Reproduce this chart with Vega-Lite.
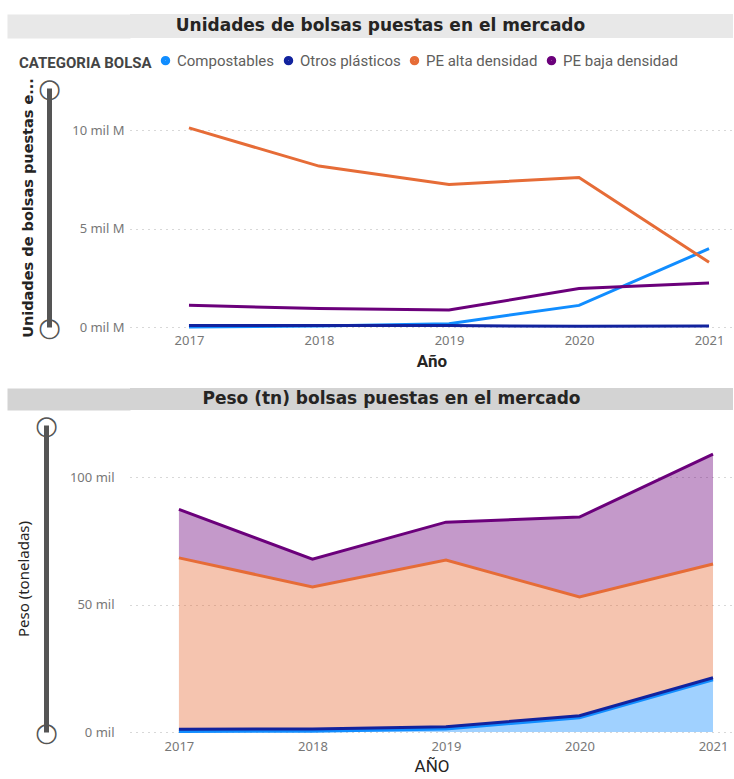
{
  "$schema": "https://vega.github.io/schema/vega-lite/v6.json",
  "padding": {"left": 16, "top": 14, "right": 0, "bottom": 0},
  "background": "white",
  "config": {
    "view": {"stroke": null},
    "axis": {"labelFont": "Noto Sans", "titleFont": "Roboto"},
    "legend": {"labelFont": "Roboto", "titleFont": "Roboto"}
  },
  "datasets": {
    "bolsas": [
      {"anio": 2017, "categoria": "Compostables", "unidades": 0.0, "peso": 0.2},
      {"anio": 2018, "categoria": "Compostables", "unidades": 0.05, "peso": 0.3},
      {"anio": 2019, "categoria": "Compostables", "unidades": 0.17, "peso": 1.2},
      {"anio": 2020, "categoria": "Compostables", "unidades": 1.1, "peso": 5.6},
      {"anio": 2021, "categoria": "Compostables", "unidades": 3.98, "peso": 20.5},
      {"anio": 2017, "categoria": "Otros plásticos", "unidades": 0.08, "peso": 0.9},
      {"anio": 2018, "categoria": "Otros plásticos", "unidades": 0.08, "peso": 0.9},
      {"anio": 2019, "categoria": "Otros plásticos", "unidades": 0.07, "peso": 0.9},
      {"anio": 2020, "categoria": "Otros plásticos", "unidades": 0.04, "peso": 0.8},
      {"anio": 2021, "categoria": "Otros plásticos", "unidades": 0.05, "peso": 0.8},
      {"anio": 2017, "categoria": "PE alta densidad", "unidades": 10.12, "peso": 67.2},
      {"anio": 2018, "categoria": "PE alta densidad", "unidades": 8.18, "peso": 55.7},
      {"anio": 2019, "categoria": "PE alta densidad", "unidades": 7.25, "peso": 65.3},
      {"anio": 2020, "categoria": "PE alta densidad", "unidades": 7.6, "peso": 46.6},
      {"anio": 2021, "categoria": "PE alta densidad", "unidades": 3.29, "peso": 44.6},
      {"anio": 2017, "categoria": "PE baja densidad", "unidades": 1.1, "peso": 19.0},
      {"anio": 2018, "categoria": "PE baja densidad", "unidades": 0.94, "peso": 10.9},
      {"anio": 2019, "categoria": "PE baja densidad", "unidades": 0.86, "peso": 14.9},
      {"anio": 2020, "categoria": "PE baja densidad", "unidades": 1.96, "peso": 31.3},
      {"anio": 2021, "categoria": "PE baja densidad", "unidades": 2.24, "peso": 43.1}
    ]
  },
  "vconcat": [
    {
      "spacing": 15,
      "resolve": {"scale": {"color": "independent"}, "legend": {"color": "independent"}},
      "vconcat": [
        {
          "width": 603,
          "height": 24,
          "view": {"fill": "#e8e8e8", "stroke": null},
          "data": {"values": [{"titulo": "Unidades de bolsas puestas en el mercado"}]},
          "mark": {"type": "text", "font": "DejaVu Sans", "fontWeight": "bold", "fontSize": 17, "color": "#252423", "dx": -51},
          "encoding": {
            "text": {"field": "titulo", "type": "nominal"},
            "y": {"field": "titulo", "type": "nominal", "axis": {"domain": true, "domainWidth": 123, "domainColor": "#e8e8e8", "offset": 61.5, "labels": false, "ticks": false, "title": null, "grid": false}}
          }
        },
        {
          "width": 603,
          "height": 239,
          "data": {"name": "bolsas"},
          "layer": [
            {
              "mark": {"type": "line", "strokeWidth": 3},
              "encoding": {
                "x": {
                  "field": "anio", "type": "ordinal",
                  "scale": {"type": "point", "padding": 0.319, "align": 0.711},
                  "axis": {"title": "Año", "labelAngle": 0, "ticks": false, "domain": false, "labelColor": "#777", "labelFontSize": 13, "labelPadding": 7, "titleFontWeight": "bold", "titleFontSize": 17, "titleColor": "#252423", "titlePadding": 6}
                },
                "y": {
                  "field": "unidades", "type": "quantitative",
                  "scale": {"domain": [0, 12.15], "nice": false},
                  "axis": {"values": [0, 5, 10], "labelExpr": "datum.value + ' mil M'", "title": null, "domain": false, "ticks": false, "grid": true, "gridDash": [1, 5], "gridColor": "#b0b0b0", "labelColor": "#777", "labelFontSize": 13, "labelPadding": 6}
                },
                "color": {
                  "field": "categoria", "type": "nominal",
                  "scale": {"domain": ["Compostables", "Otros plásticos", "PE alta densidad", "PE baja densidad"], "range": ["#118DFF", "#12239E", "#E66C37", "#6B007B"]},
                  "legend": {
                    "orient": "none", "legendX": -111, "legendY": -35, "direction": "horizontal",
                    "title": "CATEGORIA BOLSA", "titleOrient": "left", "titleFontWeight": "bold", "titleFontSize": 15, "titleColor": "#444", "titlePadding": 6,
                    "labelFontSize": 15, "labelColor": "#605E5C", "labelOffset": 4, "columnPadding": 1,
                    "symbolType": "circle", "symbolSize": 20, "symbolStrokeWidth": 5
                  }
                }
              }
            },
            {
              "mark": {"type": "point", "opacity": 0},
              "encoding": {
                "x": {"field": "anio", "type": "ordinal"},
                "y": {
                  "field": "unidades", "type": "quantitative",
                  "axis": {"orient": "left", "offset": 81, "domain": true, "domainWidth": 5, "domainColor": "#555", "ticks": false, "grid": false,
                    "values": [0, 12.15], "labelExpr": "'○'", "labelFont": "DejaVu Sans", "labelFontWeight": "bold", "labelFontSize": 26, "labelColor": "#555", "labelAlign": "center", "labelBaseline": "middle", "labelPadding": 0, "labelOverlap": false, "labelFlush": false, "labelBound": false,
                    "title": "Unidades de bolsas puestas e...", "titleFont": "DejaVu Sans", "titleFontWeight": "bold", "titleFontSize": 14.5, "titleColor": "#252423", "titlePadding": 2}
                }
              }
            }
          ],
          "resolve": {"axis": {"y": "independent"}}
        }
      ]
    },
    {
      "spacing": 2,
      "resolve": {"scale": {"color": "independent"}, "legend": {"color": "independent"}},
      "vconcat": [
        {
          "width": 603,
          "height": 22,
          "view": {"fill": "#d3d3d3", "stroke": null},
          "data": {"values": [{"titulo": "Peso (tn) bolsas puestas en el mercado"}]},
          "mark": {"type": "text", "font": "DejaVu Sans", "fontWeight": "bold", "fontSize": 17, "color": "#252423", "dx": -40},
          "encoding": {
            "text": {"field": "titulo", "type": "nominal"},
            "y": {"field": "titulo", "type": "nominal", "axis": {"domain": true, "domainWidth": 123, "domainColor": "#d3d3d3", "offset": 61.5, "labels": false, "ticks": false, "title": null, "grid": false}}
          }
        },
        {
          "width": 603,
          "height": 307,
          "data": {"name": "bolsas"},
          "transform": [
            {"stack": "peso", "groupby": ["anio"], "sort": [{"field": "categoria", "order": "ascending"}], "as": ["peso_ini", "peso_fin"]}
          ],
          "layer": [
            {
              "mark": {"type": "area", "opacity": 0.4},
              "encoding": {
                "x": {
                  "field": "anio", "type": "ordinal",
                  "scale": {"type": "point", "padding": 0.258, "align": 0.71},
                  "axis": {"title": "AÑO", "labelAngle": 0, "ticks": false, "domain": false, "labelColor": "#777", "labelFontSize": 13, "labelPadding": 8, "titleFontWeight": "normal", "titleFontSize": 17, "titleColor": "#252423", "titlePadding": 5}
                },
                "y": {
                  "field": "peso_fin", "type": "quantitative",
                  "scale": {"domain": [0, 120.4], "nice": false},
                  "axis": {"values": [0, 50, 100], "labelExpr": "datum.value + ' mil'", "title": null, "domain": false, "ticks": false, "grid": true, "gridDash": [1, 5], "gridColor": "#b0b0b0", "labelColor": "#777", "labelFontSize": 13, "labelPadding": 16}
                },
                "y2": {"field": "peso_ini"},
                "color": {
                  "field": "categoria", "type": "nominal",
                  "scale": {"domain": ["Compostables", "Otros plásticos", "PE alta densidad", "PE baja densidad"], "range": ["#118DFF", "#12239E", "#E66C37", "#6B007B"]},
                  "legend": null
                }
              }
            },
            {
              "mark": {"type": "line", "strokeWidth": 3},
              "encoding": {
                "x": {"field": "anio", "type": "ordinal"},
                "y": {
                  "field": "peso_fin", "type": "quantitative",
                  "axis": {"orient": "left", "offset": 84, "domain": true, "domainWidth": 5, "domainColor": "#555", "ticks": false, "grid": false,
                    "values": [0, 120.4], "labelExpr": "'○'", "labelFont": "DejaVu Sans", "labelFontWeight": "bold", "labelFontSize": 26, "labelColor": "#555", "labelAlign": "center", "labelBaseline": "middle", "labelPadding": 0, "labelOverlap": false, "labelFlush": false, "labelBound": false,
                    "title": "Peso (toneladas)", "titleFont": "Noto Sans", "titleFontWeight": "normal", "titleFontSize": 15, "titleColor": "#252423", "titlePadding": 3}
                },
                "color": {"field": "categoria", "type": "nominal", "legend": null}
              }
            }
          ],
          "resolve": {"axis": {"y": "independent"}}
        }
      ]
    }
  ],
  "spacing": 19,
  "resolve": {"scale": {"color": "independent"}}
}
